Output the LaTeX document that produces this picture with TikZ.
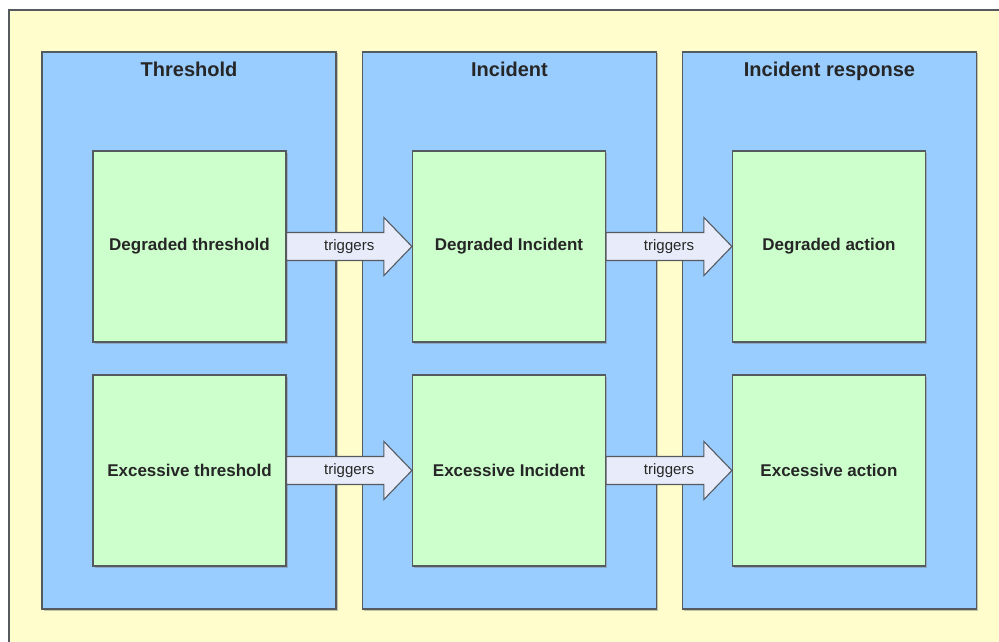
\documentclass[tikz,border=0pt]{standalone}
\usepackage{fontspec}
\setmainfont{Liberation Sans}
\usepackage{tikz}
\usetikzlibrary{positioning, calc, shadows}
\usepackage{xcolor}
\definecolor{bgyellow}{RGB}{255, 253, 204}
\definecolor{laneblue}{RGB}{153, 204, 255}
\definecolor{boxgreen}{RGB}{204, 255, 204}
\definecolor{arrowfill}{RGB}{232, 236, 250}
\definecolor{edgegrey}{RGB}{85, 90, 95}

\begin{document}
\begin{tikzpicture}[x=1pt, y=-1pt,
    lane/.style={draw=edgegrey, line width=1.2pt, fill=laneblue,
      minimum width=294pt, minimum height=557pt, inner sep=0pt,
      drop shadow={shadow xshift=1.5pt, shadow yshift=-1.5pt, opacity=.45}},
    lanetitle/.style={font=\fontsize{20}{24}\selectfont\bfseries, text=black!85, anchor=base},
    stepbox/.style={draw=edgegrey, line width=1.2pt, fill=boxgreen,
      minimum width=193pt, minimum height=191pt, inner sep=0pt,
      font=\fontsize{17}{20}\selectfont\bfseries, text=black!85,
      drop shadow={shadow xshift=1.5pt, shadow yshift=-1.5pt, opacity=.45}},
    trigger/.style={draw=edgegrey, line width=1.1pt, fill=arrowfill, line join=miter},
    trigtext/.style={font=\fontsize{15}{18}\selectfont, text=black!85, inner sep=0pt}
  ]
  \useasboundingbox (0,0) rectangle (999,642);
  \clip (0,0) rectangle (999,642);
  \fill[white] (0,0) rectangle (999,642);
  \draw[draw=edgegrey, line width=1.5pt, fill=bgyellow] (9,10) rectangle (1020,660);

  % lanes
  \node[lane] (thr) at (189,330.5) {};
  \node[lane] (inc) at (509.5,330.5) {};
  \node[lane] (resp) at (829.5,330.5) {};
  \node[lanetitle] (thrt) at ([yshift=-25pt]thr.north) {Threshold};
  \node[lanetitle] (inct) at ([yshift=-25pt]inc.north) {Incident};
  \node[lanetitle] (respt) at ([yshift=-25pt]resp.north) {Incident response};

  % boxes
  \node[stepbox] (dthr) at (189.5,246.5) {Degraded threshold};
  \node[stepbox] (ethr) at (189.5,470.5) {Excessive threshold};
  \node[stepbox] (dinc) at (509,246.5) {Degraded Incident};
  \node[stepbox] (einc) at (509,470.5) {Excessive Incident};
  \node[stepbox] (dact) at (829,246.5) {Degraded action};
  \node[stepbox] (eact) at (829,470.5) {Excessive action};

  % triggers arrows
  \foreach \a/\b in {dthr/dinc, ethr/einc, dinc/dact, einc/eact}{
    \draw[trigger] ([yshift=14pt]\a.east)
      -- ([xshift=-28pt, yshift=14pt]\b.west)
      -- ([xshift=-28pt, yshift=29pt]\b.west)
      -- (\b.west)
      -- ([xshift=-28pt, yshift=-29pt]\b.west)
      -- ([xshift=-28pt, yshift=-14pt]\b.west)
      -- ([yshift=-14pt]\a.east) -- cycle;
    \node[trigtext] (\a-\b) at ($(\a.east)!0.5!(\b.west)$) {triggers};
  }
\end{tikzpicture}
\end{document}
